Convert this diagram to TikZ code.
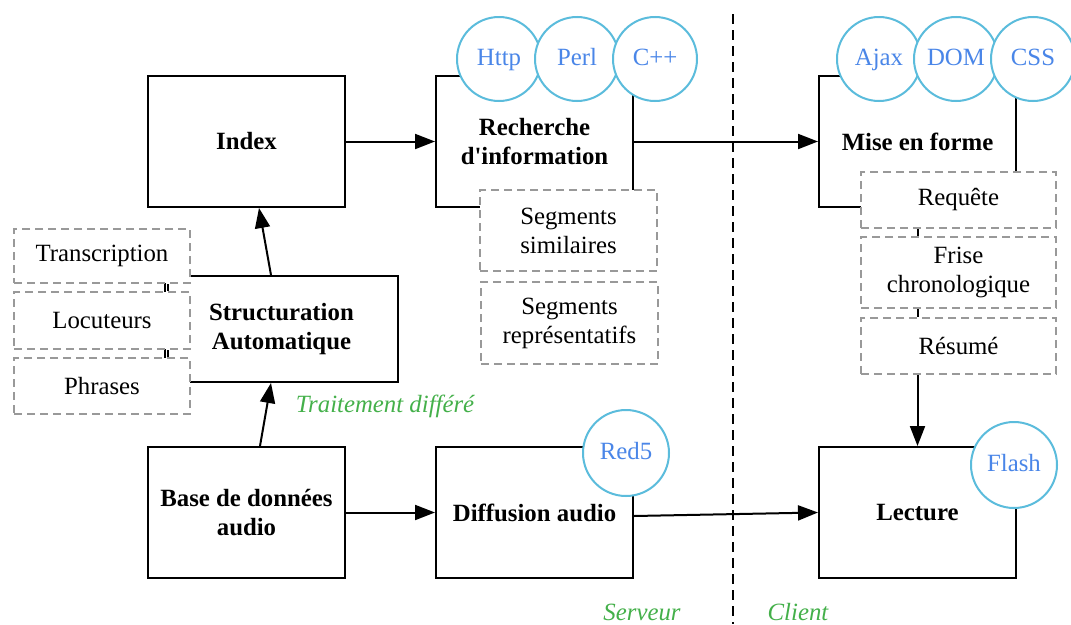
\documentclass[tikz,border=0pt]{standalone}
\usepackage{fontspec}
\setmainfont{Liberation Serif}
\usetikzlibrary{arrows.meta}
\definecolor{cblue}{HTML}{5BBCDC}
\definecolor{tblue}{HTML}{4A86E8}
\definecolor{tgreen}{HTML}{44B04A}
\definecolor{dgray}{HTML}{999999}
\newcommand\dgfont{\fontsize{24.8}{29}\selectfont}
\begin{document}
\begin{tikzpicture}[x=1pt,y=-1pt,
  box/.style={draw, line width=2pt, fill=white, align=center, font=\dgfont\bfseries, inner sep=0pt},
  dbox/.style={draw=dgray, dash pattern=on 8pt off 5pt, line width=2pt, fill=white, align=center, font=\dgfont, inner sep=0pt, minimum width=176pt},
  tech/.style={circle, draw=cblue, line width=2pt, fill=white, minimum size=84pt, inner sep=0pt, text=tblue, font=\dgfont, text height=17pt, text depth=5pt},
  arr/.style={-{Triangle[length=20pt,width=15pt]}, line width=2pt},
  lnk/.style={line width=2pt},
  note/.style={text=tgreen, font=\dgfont\itshape},
  sep/.style={line width=1.6pt, dash pattern=on 10pt off 6pt}
]
\useasboundingbox (0,0) rectangle (1071,624);
\fill[white] (0,0) rectangle (1071,624);

% main boxes
\node[box, minimum width=197pt, minimum height=131pt] (index) at (246.5,141.5) {Index};
\node[box, minimum width=197pt, minimum height=131pt] (rech) at (534.5,141.5) {Recherche\\d\textquotesingle information};
\node[box, minimum width=197pt, minimum height=131pt] (mise) at (917.5,141.5) {Mise en forme};
\node[box, minimum width=233pt, minimum height=106pt] (struct) at (281.5,329) {Structuration\\Automatique};
\node[box, minimum width=197pt, minimum height=131pt] (base) at (246.5,512.5) {Base de données\\audio};
\node[box, minimum width=197pt, minimum height=131pt] (diff) at (534.5,512.5) {Diffusion audio};
\node[box, minimum width=197pt, minimum height=131pt] (lect) at (917.5,512.5) {Lecture};

% dashed boxes
\node[dbox, minimum height=54pt] (trans) at (102,256) {Transcription};
\node[dbox, minimum height=57pt] (locu) at (102,320.5) {Locuteurs};
\node[dbox, minimum height=56pt] (phr) at (102,386) {Phrases};
\node[dbox, minimum width=177pt, minimum height=81pt] (simil) at (568.5,230.5) {Segments\\similaires};
\node[dbox, minimum width=177pt, minimum height=82pt] (repr) at (569.5,323) {Segments\\représentatifs};
\node[dbox, minimum width=195pt, minimum height=56pt] (req) at (958.5,200) {Requête};
\node[dbox, minimum width=195pt, minimum height=71pt] (frise) at (958.5,272.5) {Frise\\chronologique};
\node[dbox, minimum width=195pt, minimum height=56pt] (resume) at (958.5,346) {Résumé};

% small links between dashed boxes
\draw[lnk] ([xshift=66pt]trans.south) -- ([xshift=66pt]locu.north);
\draw[lnk] ([xshift=66pt]locu.south) -- ([xshift=66pt]phr.north);
\draw[lnk] ([xshift=-41pt]req.south) -- ([xshift=-41pt]frise.north);
\draw[lnk] ([xshift=-41pt]frise.south) -- ([xshift=-41pt]resume.north);

% technology circles
\node[tech] (http) at (499,59) {Http};
\node[tech] (perl) at (577,59) {Perl};
\node[tech] (cpp) at (655,59) {C++};
\node[tech] (ajax) at (879,59) {Ajax};
\node[tech] (dom) at (956,59) {DOM};
\node[tech] (css) at (1033,59) {CSS};
\node[tech, minimum size=86pt] (red) at (626,453) {Red5};
\node[tech, minimum size=86pt] (flash) at (1014,465) {Flash};

% arrows
\draw[arr] (index.east) -- (rech.west);
\draw[arr] (rech.east) -- (mise.west);
\draw[arr] ([xshift=-10.5pt]struct.north) -- ([xshift=12.5pt]index.south);
\draw[arr] ([xshift=13.5pt]base.north) -- ([xshift=-10.5pt]struct.south);
\draw[arr] (base.east) -- (diff.west);
\draw[arr] ([yshift=-3.5pt]diff.east) -- (lect.west);
\draw[arr] ([xshift=-41pt]resume.south) -- (lect.north);

% separator
\coordinate (septop) at (733,14);
\coordinate (sepbot) at (733,624);
\draw[sep] (septop) -- (sepbot);

% labels
\node[note] (trait) at (385,406) {Traitement différé};
\node[note] (serv) at (642,612) {Serveur};
\node[note] (cli) at (798,612) {Client};
\end{tikzpicture}
\end{document}
